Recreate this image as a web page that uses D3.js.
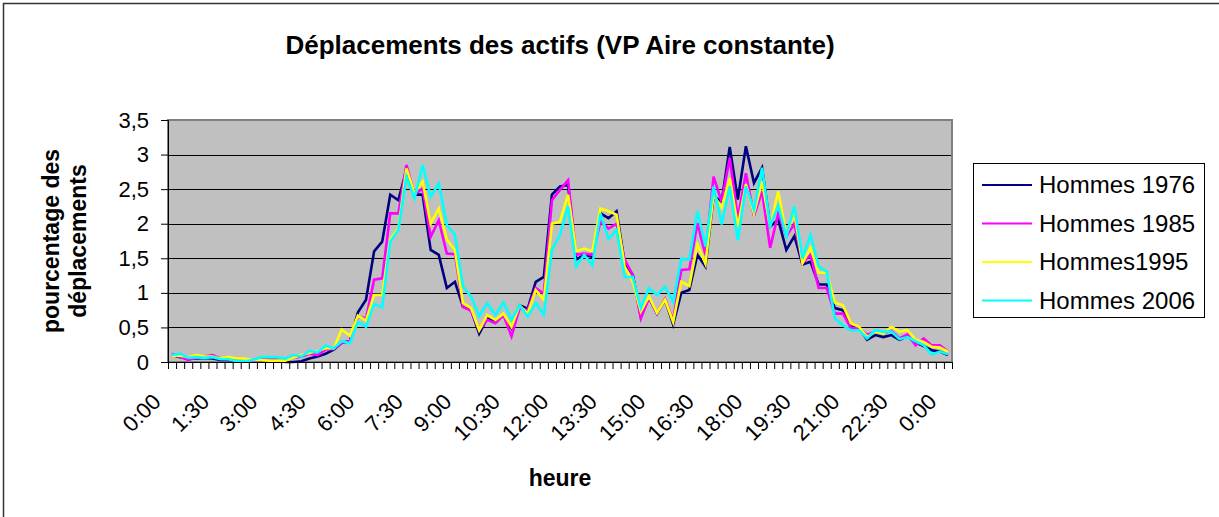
<!DOCTYPE html>
<html>
<head>
<meta charset="utf-8">
<script src="https://cdn.jsdelivr.net/npm/d3@7"></script>
<style>
  body { margin: 0; background: #fff; }
  svg { font-family: "Liberation Sans", Arial, sans-serif; }
</style>
</head>
<body>
<div id="container"></div>
<script>
const width = 1219;
const height = 517;

// 97 quarter-hour categories, 0:00 .. 0:00
const categories = d3.range(97).map(i => {
  const m = (i * 15) % 1440;
  return Math.floor(m / 60) + ":" + String(m % 60).padStart(2, "0");
});
const tickLabels = ["0:00", "1:30", "3:00", "4:30", "6:00", "7:30", "9:00", "10:30", "12:00",
  "13:30", "15:00", "16:30", "18:00", "19:30", "21:00", "22:30", "0:00"];
const yTicks = [0, 0.5, 1, 1.5, 2, 2.5, 3, 3.5];

const hommes1976 = [0.10, 0.07, 0.05, 0.05, 0.06, 0.05, 0.03, 0.03, 0.02, 0.01, 0.03, 0.03, 0.03, 0.03, 0.00, 0.00,
  0.01, 0.05, 0.08, 0.12, 0.18, 0.28, 0.30, 0.72, 0.90, 1.60, 1.74, 2.42, 2.34, 2.78, 2.42, 2.42,
  1.62, 1.55, 1.07, 1.16, 0.80, 0.75, 0.41, 0.63, 0.58, 0.68, 0.49, 0.82, 0.77, 1.16, 1.23, 2.42,
  2.54, 2.56, 1.48, 1.55, 1.52, 2.15, 2.08, 2.18, 1.43, 1.26, 0.66, 0.93, 0.70, 0.90, 0.54, 1.00,
  1.04, 1.55, 1.38, 2.40, 2.32, 3.11, 2.35, 3.12, 2.59, 2.81, 1.96, 2.06, 1.62, 1.82, 1.41, 1.45,
  1.12, 1.12, 0.78, 0.75, 0.51, 0.49, 0.32, 0.39, 0.36, 0.39, 0.32, 0.37, 0.28, 0.23, 0.17, 0.15, 0.10];
const hommes1985 = [0.12, 0.07, 0.03, 0.06, 0.08, 0.10, 0.05, 0.04, 0.02, 0.01, 0.01, 0.04, 0.05, 0.05, 0.04, 0.06,
  0.08, 0.12, 0.10, 0.18, 0.19, 0.28, 0.30, 0.66, 0.63, 1.19, 1.21, 2.15, 2.15, 2.85, 2.42, 2.51,
  1.81, 2.05, 1.57, 1.56, 0.80, 0.74, 0.46, 0.61, 0.56, 0.68, 0.37, 0.78, 0.75, 1.07, 0.99, 2.34,
  2.49, 2.63, 1.55, 1.57, 1.55, 2.03, 1.93, 2.00, 1.48, 1.26, 0.63, 0.93, 0.70, 0.91, 0.60, 1.33,
  1.34, 2.01, 1.55, 2.68, 2.32, 2.95, 2.08, 2.73, 2.11, 2.47, 1.65, 2.15, 1.82, 2.00, 1.43, 1.55,
  1.07, 1.07, 0.70, 0.70, 0.49, 0.49, 0.39, 0.44, 0.42, 0.45, 0.34, 0.40, 0.24, 0.34, 0.24, 0.24, 0.15];
const hommes1995 = [0.09, 0.09, 0.07, 0.10, 0.08, 0.08, 0.05, 0.07, 0.05, 0.05, 0.03, 0.03, 0.02, 0.02, 0.02, 0.06,
  0.10, 0.13, 0.16, 0.20, 0.20, 0.47, 0.38, 0.67, 0.60, 0.97, 0.97, 1.77, 1.93, 2.80, 2.44, 2.61,
  2.00, 2.22, 1.77, 1.62, 0.85, 0.78, 0.46, 0.68, 0.61, 0.70, 0.51, 0.82, 0.70, 1.04, 0.90, 2.00,
  2.03, 2.42, 1.60, 1.64, 1.60, 2.22, 2.18, 2.13, 1.38, 1.16, 0.73, 0.95, 0.71, 0.90, 0.58, 1.16,
  1.10, 1.70, 1.42, 2.42, 2.23, 2.66, 1.96, 2.57, 2.15, 2.61, 1.96, 2.47, 1.84, 2.15, 1.43, 1.65,
  1.29, 1.29, 0.86, 0.82, 0.56, 0.51, 0.36, 0.44, 0.41, 0.51, 0.44, 0.46, 0.32, 0.29, 0.22, 0.21, 0.15];
const hommes2006 = [0.10, 0.12, 0.06, 0.07, 0.06, 0.07, 0.04, 0.04, 0.01, 0.01, 0.03, 0.07, 0.07, 0.07, 0.05, 0.10,
  0.08, 0.16, 0.14, 0.24, 0.20, 0.30, 0.27, 0.58, 0.51, 0.84, 0.79, 1.74, 1.91, 2.68, 2.37, 2.85,
  2.39, 2.58, 1.98, 1.84, 1.09, 0.95, 0.66, 0.85, 0.68, 0.86, 0.61, 0.82, 0.66, 0.85, 0.68, 1.62,
  1.84, 2.25, 1.38, 1.55, 1.40, 2.15, 1.78, 1.91, 1.23, 1.23, 0.78, 1.07, 0.97, 1.09, 0.87, 1.49,
  1.48, 2.18, 1.67, 2.54, 1.99, 2.54, 1.76, 2.54, 2.20, 2.81, 1.97, 2.26, 1.82, 2.25, 1.50, 1.84,
  1.38, 1.31, 0.63, 0.53, 0.46, 0.46, 0.34, 0.46, 0.44, 0.44, 0.33, 0.36, 0.30, 0.24, 0.11, 0.15, 0.11];

const seriesNames = ["Hommes 1976", "Hommes 1985", "Hommes1995", "Hommes 2006"];
const seriesColors = ["#000080", "#FF00FF", "#FFFF00", "#00FFFF"];
const seriesValues = [hommes1976, hommes1985, hommes1995, hommes2006];

const plot = { left: 168, right: 952, top: 120, bottom: 362 };

const svg = d3.select("#container").append("svg")
  .attr("width", width)
  .attr("height", height);

// outer chart border (only top and left edges fall inside the picture)
svg.append("rect")
  .attr("x", 3.5).attr("y", 3.5)
  .attr("width", 1230).attr("height", 530)
  .attr("fill", "#fff")
  .attr("stroke", "#333")
  .attr("stroke-width", 1.5);

//----------------------------SCALES----------------------------//
const xScale = d3.scaleBand()
  .domain(d3.range(categories.length))
  .range([plot.left, plot.right])
  .padding(0);
const xEdge = d3.scaleLinear()
  .domain([0, categories.length])
  .range([plot.left, plot.right]);
const yScale = d3.scaleLinear()
  .domain([0, 3.5])
  .range([plot.bottom, plot.top]);

const cx = i => xScale(i) + xScale.bandwidth() / 2;

// plot area
svg.append("rect")
  .attr("x", plot.left).attr("y", plot.top)
  .attr("width", plot.right - plot.left)
  .attr("height", plot.bottom - plot.top)
  .attr("fill", "#C0C0C0");

// gridlines
svg.append("g")
  .selectAll("line")
  .data(yTicks.filter(v => v > 0 && v < 3.5))
  .enter().append("line")
  .attr("x1", plot.left).attr("x2", plot.right)
  .attr("y1", d => Math.round(yScale(d)) + 0.5)
  .attr("y2", d => Math.round(yScale(d)) + 0.5)
  .attr("stroke", "#000")
  .attr("stroke-width", 1);

svg.append("rect")
  .attr("x", plot.left).attr("y", plot.top)
  .attr("width", plot.right - plot.left)
  .attr("height", plot.bottom - plot.top)
  .attr("fill", "none")
  .attr("stroke", "#808080")
  .attr("stroke-width", 2);

//----------------------------LINES-----------------------------//
const line = d3.line()
  .x((d, i) => cx(i))
  .y(d => yScale(d));

svg.append("g")
  .selectAll("path")
  .data(seriesValues)
  .enter().append("path")
  .attr("d", d => line(d))
  .attr("fill", "none")
  .attr("stroke", (d, i) => seriesColors[i])
  .attr("stroke-width", 2.6)
  .attr("stroke-linejoin", "miter");

//-----------------------------AXES-----------------------------//
const yaxis = d3.axisLeft(yScale)
  .tickValues(yTicks)
  .tickSize(7)
  .tickPadding(12)
  .tickFormat(d => String(d).replace(".", ","));

const gy = svg.append("g")
  .attr("transform", "translate(" + plot.left + ",0)")
  .call(yaxis);
gy.select(".domain").attr("stroke", "#000");
gy.selectAll(".tick line").attr("stroke", "#000");
gy.selectAll(".tick text")
  .attr("font-size", 22)
  .attr("font-family", "Liberation Sans, Arial, sans-serif")
  .attr("fill", "#000");

const xaxis = d3.axisBottom(xEdge)
  .tickValues(d3.range(categories.length + 1))
  .tickSize(7)
  .tickFormat("");

const gx = svg.append("g")
  .attr("transform", "translate(0," + plot.bottom + ")")
  .call(xaxis);
gx.select(".domain").attr("stroke", "#000");
gx.selectAll(".tick line").attr("stroke", "#000");

// rotated category labels every 6 categories
svg.append("g")
  .selectAll("text")
  .data(tickLabels)
  .enter().append("text")
  .attr("transform", (d, k) => "translate(" + (cx(k * 6) - 10) + "," + (plot.bottom + 41) + ") rotate(-45)")
  .attr("text-anchor", "end")
  .attr("font-size", 22)
  .attr("fill", "#000")
  .text(d => d);

//----------------------------TITLES----------------------------//
svg.append("text")
  .attr("x", 560).attr("y", 54)
  .attr("text-anchor", "middle")
  .attr("font-size", 26)
  .attr("font-weight", "bold")
  .text("Déplacements des actifs (VP Aire constante)");

svg.append("text")
  .attr("x", 560).attr("y", 486)
  .attr("text-anchor", "middle")
  .attr("font-size", 23)
  .attr("font-weight", "bold")
  .text("heure");

const yTitle = svg.append("text")
  .attr("transform", "translate(0," + ((plot.top + plot.bottom) / 2) + ") rotate(-90)")
  .attr("text-anchor", "middle")
  .attr("font-size", 23)
  .attr("font-weight", "bold");
yTitle.append("tspan").attr("x", 0).attr("y", 59).text("pourcentage des");
yTitle.append("tspan").attr("x", 0).attr("y", 86).text("déplacements");

//----------------------------LEGEND----------------------------//
const legend = svg.append("g");
legend.append("rect")
  .attr("x", 973.5).attr("y", 163.5)
  .attr("width", 231).attr("height", 154)
  .attr("fill", "#fff")
  .attr("stroke", "#000")
  .attr("stroke-width", 1);

const items = legend.selectAll("g.item")
  .data(seriesNames)
  .enter().append("g")
  .attr("class", "item")
  .attr("transform", (d, i) => "translate(0," + (185 + i * 38.5) + ")");
items.append("line")
  .attr("x1", 982).attr("x2", 1032)
  .attr("y1", 0).attr("y2", 0)
  .attr("stroke", (d, i) => seriesColors[i])
  .attr("stroke-width", 2);
items.append("text")
  .attr("x", 1039).attr("y", 8)
  .attr("font-size", 24)
  .attr("fill", "#000")
  .text(d => d);
</script>
</body>
</html>
